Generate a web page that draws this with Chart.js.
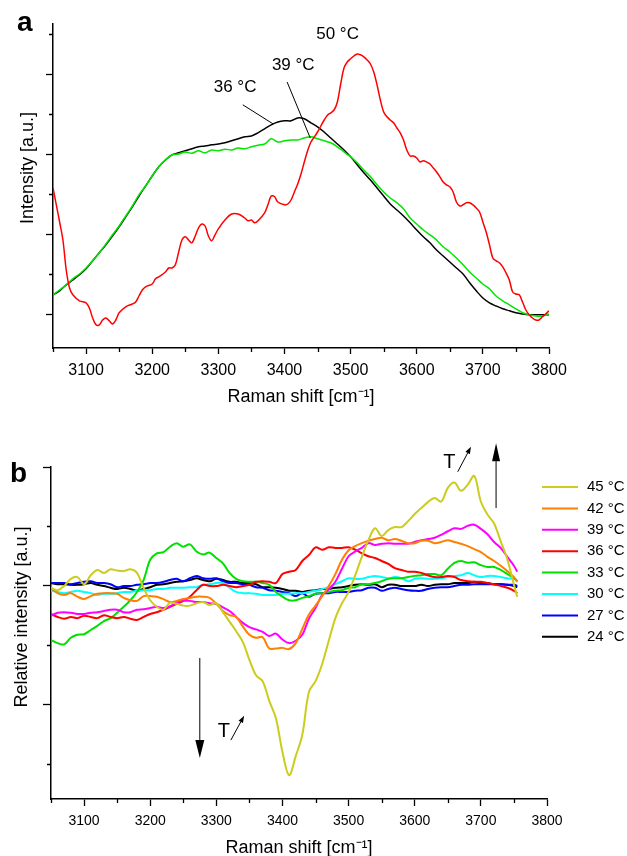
<!DOCTYPE html>
<html>
<head>
<meta charset="utf-8">
<script src="https://cdn.jsdelivr.net/npm/chart.js@4.4.0/dist/chart.umd.min.js"></script>
<style>
  html, body { margin: 0; padding: 0; background: #fff; overflow: hidden; }
  #wrapA { position: absolute; left: 0; top: 0; width: 627px; height: 420px; }
  #wrapB { position: absolute; left: 0; top: 420px; width: 627px; height: 446px; }
</style>
</head>
<body>
<div id="wrapA"><canvas id="chartA" width="627" height="420"></canvas></div>
<div id="wrapB"><canvas id="chartB" width="627" height="446"></canvas></div>
<script>
// ---- panel a: Raman spectra ----
const shiftA = [3050, 3060, 3070, 3080, 3090, 3100, 3110, 3120, 3130, 3140,
  3150, 3160, 3170, 3180, 3190, 3200, 3210, 3220, 3230, 3240,
  3250, 3260, 3270, 3280, 3290, 3300, 3310, 3320, 3330, 3340,
  3350, 3360, 3370, 3380, 3390, 3400, 3410, 3420, 3430, 3440,
  3450, 3460, 3470, 3480, 3490, 3500, 3510, 3520, 3530, 3540,
  3550, 3560, 3570, 3580, 3590, 3600, 3610, 3620, 3630, 3640,
  3650, 3660, 3670, 3680, 3690, 3700, 3710, 3720, 3730, 3740,
  3750, 3760, 3770, 3780, 3790, 3800];
const int36 = [1.48, 1.58, 1.73, 1.85, 1.98, 2.13, 2.33, 2.53, 2.73, 2.95,
  3.18, 3.43, 3.68, 3.95, 4.2, 4.45, 4.68, 4.85, 4.98, 5.03,
  5.08, 5.13, 5.18, 5.2, 5.23, 5.25, 5.28, 5.33, 5.38, 5.43,
  5.45, 5.53, 5.63, 5.73, 5.8, 5.83, 5.83, 5.9, 5.88, 5.78,
  5.68, 5.55, 5.4, 5.25, 5.1, 4.93, 4.73, 4.53, 4.35, 4.15,
  3.95, 3.75, 3.6, 3.45, 3.28, 3.1, 2.93, 2.78, 2.6, 2.45,
  2.3, 2.15, 2.0, 1.78, 1.58, 1.4, 1.28, 1.2, 1.13, 1.08,
  1.03, 1.0, 0.98, 0.98, 0.98, 0.98];
const int39 = [1.48, 1.6, 1.73, 1.88, 2.0, 2.15, 2.33, 2.53, 2.75, 2.98,
  3.2, 3.45, 3.7, 3.98, 4.2, 4.45, 4.68, 4.85, 4.98, 5.0,
  5.05, 5.02, 5.08, 5.03, 5.1, 5.08, 5.12, 5.1, 5.15, 5.13,
  5.18, 5.22, 5.25, 5.38, 5.3, 5.33, 5.35, 5.35, 5.4, 5.43,
  5.38, 5.33, 5.28, 5.18, 5.05, 4.93, 4.78, 4.6, 4.43, 4.23,
  4.05, 3.9, 3.78, 3.63, 3.4, 3.25, 3.1, 2.98, 2.85, 2.68,
  2.55, 2.4, 2.23, 2.05, 1.9, 1.75, 1.63, 1.45, 1.33, 1.23,
  1.13, 1.03, 0.98, 0.95, 0.95, 1.0];
const shift50 = [3050, 3055, 3060, 3065, 3070, 3075, 3080, 3090, 3100, 3105,
  3110, 3115, 3120, 3125, 3130, 3135, 3140, 3145, 3150, 3160,
  3170, 3175, 3180, 3185, 3190, 3200, 3205, 3210, 3220, 3225,
  3230, 3235, 3240, 3245, 3250, 3255, 3260, 3265, 3270, 3275,
  3280, 3285, 3290, 3295, 3300, 3310, 3320, 3330, 3340, 3345,
  3350, 3355, 3360, 3370, 3375, 3380, 3385, 3390, 3400, 3405,
  3410, 3415, 3420, 3425, 3430, 3435, 3440, 3445, 3450, 3455,
  3460, 3465, 3470, 3475, 3480, 3485, 3490, 3495, 3500, 3505,
  3510, 3515, 3520, 3525, 3530, 3535, 3540, 3545, 3550, 3555,
  3560, 3565, 3570, 3575, 3580, 3585, 3590, 3595, 3600, 3605,
  3610, 3615, 3620, 3625, 3630, 3635, 3640, 3645, 3650, 3655,
  3660, 3665, 3670, 3675, 3680, 3685, 3690, 3695, 3700, 3705,
  3710, 3715, 3720, 3725, 3730, 3735, 3740, 3745, 3750, 3755,
  3760, 3765, 3770, 3775, 3780, 3785, 3790, 3795, 3800];
const int50 = [4.15, 3.73, 3.3, 2.85, 2.1, 1.65, 1.48, 1.33, 1.28, 1.15,
  0.9, 0.73, 0.73, 0.85, 0.9, 0.83, 0.75, 0.85, 1.03, 1.18,
  1.25, 1.3, 1.45, 1.6, 1.68, 1.75, 1.88, 1.93, 2.05, 2.15,
  2.15, 2.23, 2.55, 2.85, 2.93, 2.85, 2.78, 2.95, 3.15, 3.25,
  3.2, 2.95, 2.83, 2.98, 3.13, 3.35, 3.5, 3.5, 3.4, 3.33,
  3.35, 3.28, 3.33, 3.53, 3.73, 3.95, 3.93, 3.8, 3.73, 3.75,
  3.85, 4.05, 4.25, 4.5, 4.8, 5.08, 5.3, 5.42, 5.55, 5.7,
  5.85, 5.97, 6.03, 6.1, 6.3, 6.75, 7.15, 7.3, 7.38, 7.45,
  7.5, 7.48, 7.43, 7.35, 7.25, 7.05, 6.73, 6.35, 6.05, 5.93,
  5.85, 5.78, 5.65, 5.53, 5.35, 5.1, 4.95, 4.95, 4.9, 4.8,
  4.83, 4.8, 4.75, 4.65, 4.55, 4.43, 4.3, 4.23, 4.18, 4.05,
  3.8, 3.7, 3.73, 3.78, 3.78, 3.73, 3.65, 3.55, 3.3, 3.05,
  2.73, 2.4, 2.33, 2.28, 2.18, 2.03, 1.85, 1.55, 1.5, 1.48,
  1.3, 1.1, 0.98, 0.9, 0.85, 0.85, 0.93, 1.0, 1.08];

// ---- panel b: relative (difference) spectra ----
const shiftB = [3050, 3060, 3070, 3080, 3090, 3100, 3110, 3120, 3130, 3140,
  3150, 3160, 3170, 3180, 3190, 3200, 3210, 3220, 3230, 3240,
  3250, 3260, 3270, 3280, 3290, 3300, 3310, 3320, 3330, 3340,
  3350, 3360, 3370, 3380, 3390, 3400, 3410, 3420, 3430, 3440,
  3450, 3460, 3470, 3480, 3490, 3500, 3510, 3520, 3530, 3540,
  3550, 3560, 3570, 3580, 3590, 3600, 3610, 3620, 3630, 3640,
  3650, 3660, 3670, 3680, 3690, 3700, 3710, 3720, 3730, 3740,
  3750, 3755];
const rel45 = [-0.03, -0.07, 0.0, 0.12, 0.15, 0.03, 0.18, 0.27, 0.22, 0.28,
  0.26, 0.25, 0.28, 0.22, -0.03, -0.24, -0.35, -0.4, -0.28, -0.3,
  -0.33, -0.33, -0.29, -0.27, -0.32, -0.29, -0.44, -0.6, -0.76, -0.94,
  -1.24, -1.5, -1.6, -1.93, -2.22, -2.79, -3.18, -2.86, -2.5, -1.78,
  -1.6, -1.31, -0.92, -0.54, -0.29, -0.1, 0.18, 0.49, 0.77, 0.97,
  0.84, 0.94, 0.99, 0.99, 1.09, 1.21, 1.31, 1.41, 1.48, 1.42,
  1.65, 1.74, 1.6, 1.7, 1.85, 1.42, 1.2, 1.05, 0.75, 0.45,
  0.02, -0.18];
const rel42 = [-0.03, -0.12, -0.15, -0.12, -0.18, -0.22, -0.17, -0.13, -0.12, -0.12,
  -0.13, -0.2, -0.24, -0.25, -0.17, -0.17, -0.18, -0.22, -0.27, -0.25,
  -0.22, -0.2, -0.18, -0.18, -0.2, -0.3, -0.42, -0.49, -0.52, -0.68,
  -0.82, -0.87, -0.86, -1.05, -1.05, -1.04, -1.06, -0.96, -0.72, -0.48,
  -0.33, -0.17, 0.0, 0.2, 0.44, 0.6, 0.67, 0.72, 0.76, 0.79,
  0.81, 0.77, 0.79, 0.76, 0.72, 0.72, 0.76, 0.76, 0.72, 0.74,
  0.77, 0.74, 0.71, 0.67, 0.62, 0.57, 0.49, 0.42, 0.34, 0.25,
  0.15, 0.07];
const rel39 = [-0.5, -0.45, -0.44, -0.45, -0.47, -0.47, -0.45, -0.44, -0.42, -0.4,
  -0.4, -0.44, -0.44, -0.4, -0.39, -0.37, -0.35, -0.37, -0.34, -0.27,
  -0.25, -0.25, -0.27, -0.27, -0.29, -0.3, -0.36, -0.42, -0.52, -0.62,
  -0.69, -0.73, -0.77, -0.84, -0.8, -0.9, -0.96, -0.92, -0.82, -0.55,
  -0.37, -0.15, -0.06, 0.07, 0.29, 0.5, 0.58, 0.64, 0.72, 0.69,
  0.71, 0.72, 0.71, 0.71, 0.71, 0.74, 0.77, 0.79, 0.81, 0.86,
  0.92, 0.97, 0.96, 1.01, 1.03, 0.96, 0.87, 0.74, 0.64, 0.49,
  0.34, 0.24];
const rel36 = [-0.47, -0.52, -0.55, -0.52, -0.54, -0.5, -0.52, -0.54, -0.49, -0.52,
  -0.54, -0.52, -0.55, -0.57, -0.52, -0.47, -0.44, -0.4, -0.35, -0.3,
  -0.25, -0.18, -0.07, 0.02, 0.0, 0.0, 0.02, 0.0, -0.02, 0.0,
  0.02, 0.07, 0.08, 0.07, 0.05, 0.2, 0.24, 0.27, 0.42, 0.52,
  0.65, 0.61, 0.65, 0.64, 0.64, 0.65, 0.61, 0.55, 0.5, 0.47,
  0.42, 0.37, 0.3, 0.27, 0.24, 0.24, 0.22, 0.18, 0.15, 0.15,
  0.17, 0.15, 0.1, 0.08, 0.07, 0.07, 0.05, 0.03, 0.0, -0.03,
  -0.08, -0.12];
const rel33 = [-0.91, -0.96, -0.98, -0.87, -0.82, -0.81, -0.74, -0.67, -0.59, -0.54,
  -0.45, -0.35, -0.24, -0.1, 0.1, 0.44, 0.55, 0.57, 0.66, 0.72,
  0.66, 0.7, 0.58, 0.53, 0.56, 0.47, 0.38, 0.22, 0.12, 0.08,
  0.07, 0.07, 0.05, 0.02, -0.1, -0.18, -0.24, -0.24, -0.2, -0.17,
  -0.13, -0.12, -0.1, -0.08, -0.07, -0.03, -0.02, 0.03, 0.03, 0.05,
  0.08, 0.12, 0.13, 0.13, 0.15, 0.17, 0.18, 0.2, 0.2, 0.18,
  0.29, 0.39, 0.42, 0.39, 0.4, 0.35, 0.32, 0.32, 0.27, 0.2,
  0.13, 0.08];
const rel30 = [-0.08, -0.1, -0.12, -0.1, -0.08, -0.1, -0.12, -0.15, -0.13, -0.13,
  -0.12, -0.1, -0.1, -0.08, -0.07, -0.07, -0.05, -0.05, -0.03, -0.03,
  -0.03, -0.02, -0.02, 0.02, 0.03, 0.05, 0.05, -0.03, -0.1, -0.12,
  -0.12, -0.13, -0.15, -0.15, -0.15, -0.13, -0.13, -0.12, -0.12, -0.1,
  -0.08, -0.05, -0.02, 0.03, 0.08, 0.13, 0.12, 0.12, 0.15, 0.17,
  0.15, 0.13, 0.15, 0.13, 0.08, 0.12, 0.13, 0.12, 0.12, 0.13,
  0.15, 0.17, 0.18, 0.22, 0.18, 0.15, 0.17, 0.17, 0.15, 0.13,
  0.12, 0.1];
const rel27 = [0.05, 0.05, 0.05, 0.03, 0.05, 0.07, 0.08, 0.05, 0.05, 0.03,
  -0.02, 0.0, 0.0, 0.02, 0.03, 0.05, 0.05, 0.07, 0.1, 0.12,
  0.08, 0.13, 0.17, 0.13, 0.12, 0.13, 0.08, 0.05, 0.05, 0.03,
  0.02, -0.02, -0.03, -0.07, -0.08, -0.1, -0.12, -0.17, -0.12, -0.18,
  -0.13, -0.12, -0.12, -0.1, -0.1, -0.1, -0.08, -0.07, -0.03, -0.03,
  -0.08, -0.05, -0.03, -0.05, -0.07, -0.08, -0.08, -0.05, -0.03, -0.02,
  -0.02, 0.0, 0.02, 0.02, 0.03, 0.03, 0.03, 0.03, 0.03, 0.02,
  0.02, 0.0];
const rel24 = [0.05, 0.03, 0.03, 0.02, 0.02, 0.03, 0.05, 0.02, 0.0, -0.03,
  -0.05, -0.03, -0.05, -0.08, -0.05, -0.02, 0.02, 0.03, 0.05, 0.07,
  0.08, 0.1, 0.13, 0.1, 0.08, 0.12, 0.1, 0.07, 0.07, 0.05,
  0.05, 0.03, -0.02, -0.02, -0.03, -0.05, -0.08, -0.08, -0.1, -0.08,
  -0.07, -0.05, -0.05, -0.03, -0.02, 0.0, 0.02, 0.03, 0.02, 0.03,
  -0.02, 0.02, 0.02, 0.0, 0.0, 0.0, 0.02, 0.0, 0.02, 0.03,
  0.03, 0.05, 0.05, 0.05, 0.07, 0.05, 0.05, 0.03, 0.03, 0.02,
  0.0, -0.02];
const tempsB = ['45 °C', '42 °C', '39 °C', '36 °C', '33 °C', '30 °C', '27 °C', '24 °C'];
const seriesB = [rel45, rel42, rel39, rel36, rel33, rel30, rel27, rel24];
const colorsB = ['#cccc1e', '#ff8000', '#ff00ff', '#ff0000', '#00e000', '#00ffff', '#0000ff', '#000000'];

// ticks
const xMajor = [3100, 3200, 3300, 3400, 3500, 3600, 3700, 3800];
const xMinor = [3050, 3150, 3250, 3350, 3450, 3550, 3650, 3750];
const yMajorA = [1, 3, 5, 7];
const yMinorA = [2, 4, 6, 8];
const yMajorB = [2, 0, -2];
const yMinorB = [1, -1, -3];

const family = "'Liberation Sans', Arial, sans-serif";
const toPoints = (xs, ys) => xs.map((x, i) => ({ x: x, y: ys[i] }));

// short ticks between the labelled ones
const minorTicks = {
  id: 'minorTicks',
  afterDraw(chart, args, opts) {
    const { ctx, chartArea: a, scales: { x, y } } = chart;
    ctx.save();
    ctx.strokeStyle = '#000';
    ctx.lineWidth = 1.3;
    ctx.beginPath();
    opts.x.forEach(v => {
      const p = Math.round(x.getPixelForValue(v)) + 0.5;
      ctx.moveTo(p, a.bottom);
      ctx.lineTo(p, a.bottom + opts.len);
    });
    opts.y.forEach(v => {
      const p = Math.round(y.getPixelForValue(v)) + 0.5;
      ctx.moveTo(a.left, p);
      ctx.lineTo(a.left - opts.len, p);
    });
    ctx.stroke();
    ctx.restore();
  }
};

function drawArrow(ctx, x1, y1, x2, y2, head, half) {
  const ang = Math.atan2(y2 - y1, x2 - x1);
  const bx = x2 - head * Math.cos(ang), by = y2 - head * Math.sin(ang);
  ctx.beginPath();
  ctx.moveTo(x1, y1);
  ctx.lineTo(bx, by);
  ctx.stroke();
  ctx.beginPath();
  ctx.moveTo(x2, y2);
  ctx.lineTo(bx + half * Math.sin(ang), by - half * Math.cos(ang));
  ctx.lineTo(bx - half * Math.sin(ang), by + half * Math.cos(ang));
  ctx.closePath();
  ctx.fill();
}

function rotatedText(ctx, text, cx, cy, font) {
  ctx.save();
  ctx.font = font;
  ctx.translate(cx, cy);
  ctx.rotate(-Math.PI / 2);
  ctx.textAlign = 'center';
  ctx.textBaseline = 'middle';
  ctx.fillText(text, 0, 0);
  ctx.restore();
}

function axisOpts(size, tl, minV, maxV, major, fitFn) {
  return {
    min: minV, max: maxV,
    afterBuildTicks: s => { s.ticks = major.map(v => ({ value: v })); },
    afterFit: fitFn,
    grid: { drawOnChartArea: false, tickLength: tl, tickWidth: 1.3, tickColor: '#000' },
    border: { color: '#000', width: 1.5 }
  };
}

// ---- chart a ----
const labelsA = [
  { text: '50 °C', x: 3448, y: 7.88 },
  { text: '39 °C', x: 3381, y: 7.1 },
  { text: '36 °C', x: 3293, y: 6.55 }
];
const leadersA = [[3337, 6.23, 3383, 5.75], [3404, 6.8, 3439, 5.4]];

const decorA = {
  id: 'decorA',
  afterDraw(chart) {
    const { ctx, scales: { x, y } } = chart;
    ctx.save();
    ctx.fillStyle = '#000';
    ctx.strokeStyle = '#000';
    ctx.font = 'bold 28px ' + family;
    ctx.fillText('a', 17, 31);
    rotatedText(ctx, 'Intensity [a.u.]', 28, 168, '18px ' + family);
    ctx.font = '17px ' + family;
    ctx.textBaseline = 'alphabetic';
    labelsA.forEach(l => ctx.fillText(l.text, x.getPixelForValue(l.x), y.getPixelForValue(l.y)));
    ctx.lineWidth = 1;
    leadersA.forEach(l => {
      ctx.beginPath();
      ctx.moveTo(x.getPixelForValue(l[0]), y.getPixelForValue(l[1]));
      ctx.lineTo(x.getPixelForValue(l[2]), y.getPixelForValue(l[3]));
      ctx.stroke();
    });
    ctx.restore();
  }
};

const xA = axisOpts(16, 6, 3050, 3800, xMajor, s => { s.height = 72; });
xA.type = 'linear';
xA.ticks = { font: { family: family, size: 16 }, color: '#000', padding: 7, maxRotation: 0, autoSkip: false, callback: v => String(v) };
xA.title = { display: true, text: 'Raman shift [cm\u207B\u00B9]', color: '#000', font: { family: family, size: 18 }, padding: { top: 0, bottom: 12 } };
const yA = axisOpts(16, 7, 0.15, 8.25, yMajorA, s => { s.width = 53; });
yA.ticks = { display: false };

new Chart(document.getElementById('chartA'), {
  type: 'line',
  data: {
    datasets: [
      { label: '50 °C', data: toPoints(shift50, int50), borderColor: '#ff0000', borderWidth: 1.5 },
      { label: '39 °C', data: toPoints(shiftA, int39), borderColor: '#00e600', borderWidth: 1.5 },
      { label: '36 °C', data: toPoints(shiftA, int36), borderColor: '#000000', borderWidth: 1.5 }
    ]
  },
  options: {
    responsive: false,
    animation: false,
    parsing: true,
    elements: { point: { radius: 0 }, line: { tension: 0.35 } },
    layout: { padding: { top: 24, right: 78, left: 0, bottom: 0 } },
    scales: { x: xA, y: yA },
    plugins: {
      legend: { display: false },
      tooltip: { enabled: false },
      minorTicks: { x: xMinor, y: yMinorA, len: 4 }
    }
  },
  plugins: [minorTicks, decorA]
});

// ---- chart b ----
const decorB = {
  id: 'decorB',
  afterDraw(chart) {
    const { ctx, scales: { x, y } } = chart;
    ctx.save();
    ctx.fillStyle = '#000';
    ctx.strokeStyle = '#000';
    ctx.font = 'bold 28px ' + family;
    ctx.fillText('b', 10, 62);
    rotatedText(ctx, 'Relative intensity [a.u.]', 22, 197, '18px ' + family);

    // legend
    ctx.font = '15px ' + family;
    ctx.textBaseline = 'middle';
    chart.data.datasets.forEach((ds, i) => {
      const ry = 67 + i * 21.4;
      ctx.strokeStyle = ds.borderColor;
      ctx.lineWidth = 2;
      ctx.beginPath();
      ctx.moveTo(542, ry);
      ctx.lineTo(578, ry);
      ctx.stroke();
      ctx.fillStyle = '#000';
      ctx.fillText(ds.label, 587, ry);
    });

    // temperature arrows
    ctx.strokeStyle = '#000';
    ctx.fillStyle = '#000';
    ctx.lineWidth = 1;
    drawArrow(ctx, x.getPixelForValue(3723), y.getPixelForValue(1.31), x.getPixelForValue(3723), y.getPixelForValue(2.4), 18, 4);
    drawArrow(ctx, x.getPixelForValue(3275), y.getPixelForValue(-1.21), x.getPixelForValue(3275), y.getPixelForValue(-2.89), 18, 4.5);
    ctx.font = '20px ' + family;
    ctx.textBaseline = 'alphabetic';
    ctx.fillText('T', x.getPixelForValue(3643), y.getPixelForValue(1.98));
    ctx.fillText('T', x.getPixelForValue(3302), y.getPixelForValue(-2.54));
    drawArrow(ctx, x.getPixelForValue(3665), y.getPixelForValue(1.92), x.getPixelForValue(3685), y.getPixelForValue(2.34), 7, 2.5);
    drawArrow(ctx, x.getPixelForValue(3322), y.getPixelForValue(-2.59), x.getPixelForValue(3342), y.getPixelForValue(-2.18), 7, 2.5);
    ctx.restore();
  }
};

const xB = axisOpts(14, 7, 3050, 3800, xMajor, s => { s.height = 67; });
xB.type = 'linear';
xB.ticks = { font: { family: family, size: 14 }, color: '#000', padding: 7, maxRotation: 0, autoSkip: false, callback: v => String(v) };
xB.title = { display: true, text: 'Raman shift [cm\u207B\u00B9]', color: '#000', font: { family: family, size: 18 }, padding: { top: 0, bottom: 7 } };
const yB = axisOpts(14, 8, -3.58, 2, yMajorB, s => { s.width = 51; });
yB.ticks = { display: false };

new Chart(document.getElementById('chartB'), {
  type: 'line',
  data: {
    datasets: seriesB.map((vals, i) => ({
      label: tempsB[i],
      data: toPoints(shiftB, vals),
      borderColor: colorsB[i],
      borderWidth: 2
    }))
  },
  options: {
    responsive: false,
    animation: false,
    elements: { point: { radius: 0 }, line: { tension: 0.35 } },
    layout: { padding: { top: 47, right: 80, left: 0, bottom: 0 } },
    scales: { x: xB, y: yB },
    plugins: {
      legend: { display: false },
      tooltip: { enabled: false },
      minorTicks: { x: xMinor, y: yMinorB, len: 4 }
    }
  },
  plugins: [minorTicks, decorB]
});
</script>
</body>
</html>
